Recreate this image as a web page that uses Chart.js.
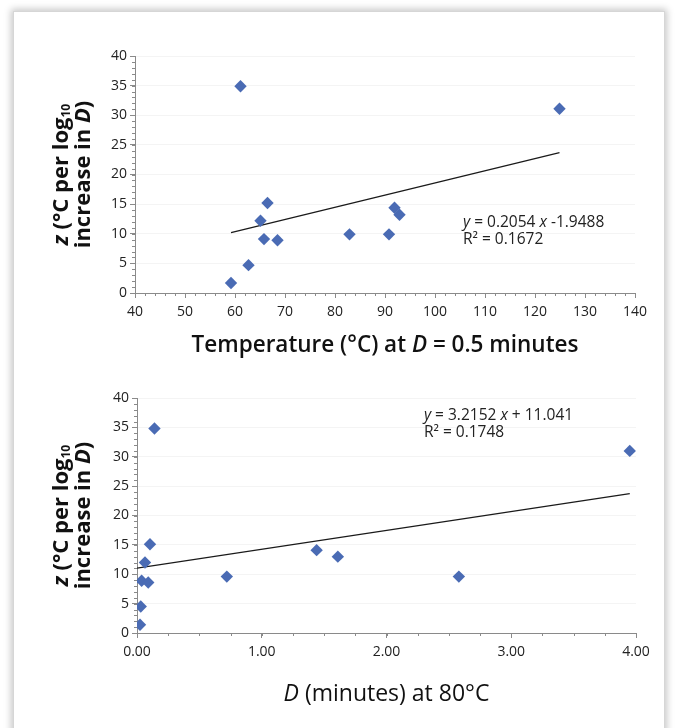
<!DOCTYPE html>
<html><head><meta charset="utf-8">
<script src="https://cdn.jsdelivr.net/npm/chart.js@4.4.0/dist/chart.umd.min.js"></script>
<style>
html,body{margin:0;padding:0;background:#fff;width:678px;height:728px;overflow:hidden;}
#panel{position:absolute;left:13px;top:11px;width:650px;height:740px;background:#fff;border:1px solid #d6d6d6;box-shadow:0 0 7px 2px rgba(0,0,0,0.22);}
.wrap{position:absolute;left:0;width:678px;}
canvas{display:block;}
</style></head><body>
<div id="panel"></div>
<div class="wrap" style="top:0;height:372px"><canvas id="c1" width="678" height="372"></canvas></div>
<div class="wrap" style="top:372px;height:356px"><canvas id="c2" width="678" height="356"></canvas></div>
<script>
// ---- data ----
const tempX = [59.2, 62.7, 65.1, 66.5, 65.8, 68.5, 61.1, 82.9, 90.8, 91.9, 92.9, 124.9];
const tempZ = [1.7, 4.7, 12.2, 15.2, 9.1, 8.9, 34.9, 9.9, 9.9, 14.4, 13.2, 31.1];
const tempTrendX = [59.2, 124.9];
const tempTrendY = [10.2, 23.7];
const dX = [0.024, 0.03, 0.064, 0.104, 0.037, 0.09, 0.14, 0.72, 1.44, 1.61, 2.58, 3.95];
const dZ = [1.4, 4.5, 12.0, 15.1, 8.9, 8.6, 34.8, 9.6, 14.1, 13.0, 9.6, 31.0];
const dTrendX = [0.0, 3.95];
const dTrendY = [11.04, 23.74];
const zTicks = [0, 5, 10, 15, 20, 25, 30, 35, 40];
const tempTicks = [40, 50, 60, 70, 80, 90, 100, 110, 120, 130, 140];
const dTicks = [0, 1, 2, 3, 4];
const eqTop = ['y = 0.2054 x -1.9488', 'R² = 0.1672'];
const eqBottom = ['y = 3.2152 x + 11.041', 'R² = 0.1748'];

const FONT = "'Open Sans', 'Noto Sans', sans-serif";
const PT = '#4a6bb4';

function toPts(xs, ys){ return xs.map((x,i)=>({x:x,y:ys[i]})); }

function drawRuns(ctx, runs, x, y, align, size){
  const fontOf = r => (r.it?'italic ':'') + (r.w||400) + ' ' + (r.sub? size*0.55 : size) + 'px ' + FONT;
  let total = 0;
  runs.forEach(r=>{ ctx.font = fontOf(r); r._w = ctx.measureText(r.t).width; total += r._w; });
  let cx = align==='center' ? x - total/2 : x;
  ctx.textBaseline = 'alphabetic';
  ctx.textAlign = 'left';
  runs.forEach(r=>{ ctx.font = fontOf(r); ctx.fillText(r.t, cx, y + (r.sub? size*0.08 : 0)); cx += r._w; });
}

function eqRuns(s){
  const out=[]; const parts = s.split(/(\by\b|\bx\b)/);
  parts.forEach(p=>{ if(!p) return; out.push({t:p, it:(p==='x'||p==='y'), w:400}); });
  return out;
}

const decor = {
  id:'decor',
  afterDraw(chart, args, o){
    const ctx = chart.ctx, xs = chart.scales.x, ys = chart.scales.y, ca = chart.chartArea;
    ctx.save();
    ctx.strokeStyle = '#8a8a8a'; ctx.lineWidth = 1;
    ctx.beginPath();
    for(let v=ys.min; v<=ys.max+1e-9; v+=o.yMinor){
      const p = Math.round(ys.getPixelForValue(v))+0.5;
      ctx.moveTo(ca.left-3, p); ctx.lineTo(ca.left, p);
    }
    for(let v=xs.min; v<=xs.max+1e-9; v+=o.xMinor){
      const p = Math.round(xs.getPixelForValue(v))+0.5;
      ctx.moveTo(p, ca.bottom); ctx.lineTo(p, ca.bottom+3);
    }
    ctx.stroke();
    ctx.fillStyle = '#111';
    ctx.save();
    ctx.translate(o.yTitleX, (ca.top+ca.bottom)/2 + o.yTitleDy);
    ctx.rotate(-Math.PI/2);
    drawRuns(ctx, [{t:'z',it:1,w:700},{t:' (°C per log',w:700},{t:'10',w:700,sub:1}], 0, 0, 'center', 22);
    drawRuns(ctx, [{t:'increase in ',w:700},{t:'D',it:1,w:700},{t:')',w:700}], 0, 22, 'center', 22);
    ctx.restore();
    drawRuns(ctx, o.xTitle, (ca.left+ca.right)/2 + o.xTitleDx, o.xTitleY, 'center', o.xTitleSize);
    ctx.fillStyle = '#222';
    const ex = xs.getPixelForValue(o.eqAt[0]), ey = ys.getPixelForValue(o.eqAt[1]);
    drawRuns(ctx, eqRuns(o.eq[0]), ex, ey, 'left', 15.5);
    drawRuns(ctx, [{t:o.eq[1], w:400}], ex, ey+17, 'left', 15.5);
    ctx.restore();
  }
};

function makeChart(id, pts, trend, xMin, xMax, xTicks, fmt, yW, xH, pad, dec){
  return new Chart(document.getElementById(id), {
    type:'scatter',
    data:{ datasets:[
      { data: trend, showLine:true, borderColor:'#1a1a1a', borderWidth:1.3, pointRadius:0, fill:false, order:2 },
      { data: pts, pointStyle:'rectRot', pointRadius:6.2, pointBackgroundColor:PT, pointBorderColor:PT, pointBorderWidth:0, order:1 }
    ]},
    options:{
      responsive:false, animation:false,
      layout:{ padding: pad },
      plugins:{ legend:{display:false}, tooltip:{enabled:false}, decor: dec },
      scales:{
        x:{ type:'linear', min:xMin, max:xMax,
            afterFit(s){ s.height = xH; },
            afterBuildTicks(s){ s.ticks = xTicks.map(v=>({value:v})); },
            ticks:{ font:{family:FONT, size:14}, color:'#222', padding:6, callback:fmt, maxRotation:0 },
            grid:{ drawOnChartArea:false, tickLength:5, tickColor:'#8a8a8a' },
            border:{ color:'#8a8a8a' } },
        y:{ type:'linear', min:0, max:40,
            afterFit(s){ s.width = yW; },
            afterBuildTicks(s){ s.ticks = zTicks.map(v=>({value:v})); },
            ticks:{ font:{family:FONT, size:14}, color:'#222', padding:3 },
            grid:{ color: c => c.tick && c.tick.value===0 ? 'rgba(0,0,0,0)' : 'rgba(0,0,0,0.045)', tickLength:5, tickColor:'#8a8a8a' },
            border:{ color:'#8a8a8a' } }
      }
    },
    plugins:[decor]
  });
}

makeChart('c1', toPts(tempX, tempZ), toPts(tempTrendX, tempTrendY), 40, 140, tempTicks,
  v => String(v), 135, 79, {top:56, right:43, left:0, bottom:0},
  { yMinor:1, xMinor:2, yTitleX:68, yTitleDy:0, xTitleY:352, xTitleDx:0, xTitleSize:22.5,
    xTitle:[{t:'Temperature (°C) at ',w:600},{t:'D',it:1,w:600},{t:' = 0.5 minutes',w:600}],
    eq:eqTop, eqAt:[105.6, 11.2] });

makeChart('c2', toPts(dX, dZ), toPts(dTrendX, dTrendY), 0, 4, dTicks,
  v => Number(v).toFixed(2), 137, 95, {top:26, right:42, left:0, bottom:0},
  { yMinor:1, xMinor:0.25, yTitleX:68, yTitleDy:0, xTitleY:329, xTitleDx:0, xTitleSize:23,
    xTitle:[{t:'D',it:1,w:400},{t:' (minutes) at 80°C',w:400}],
    eq:eqBottom, eqAt:[2.3, 36.2] });
</script>
</body></html>
